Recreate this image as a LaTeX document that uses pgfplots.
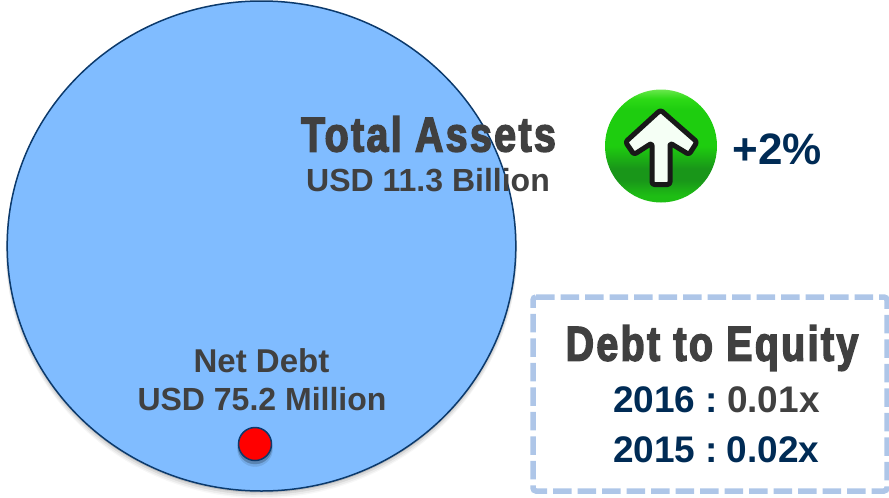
\documentclass[border=0pt]{standalone}
\usepackage{fontspec}
\setmainfont{Liberation Sans}
\newfontfamily\heavy[FakeBold=3,FakeStretch=0.8,LetterSpace=5]{Liberation Sans Bold}
\usepackage{pgfplots}
\pgfplotsset{compat=1.18}
\definecolor{bub}{RGB}{128,188,255}
\definecolor{navy}{RGB}{0,43,85}
\definecolor{edge}{RGB}{12,58,108}
\definecolor{txt}{RGB}{64,64,64}
\definecolor{boxdash}{RGB}{174,198,232}
\definecolor{ga}{RGB}{30,190,20}
\definecolor{gb}{RGB}{25,150,25}
\definecolor{gc}{RGB}{30,205,15}
\definecolor{gd}{RGB}{45,218,22}
\definecolor{ge}{RGB}{120,235,90}
\pgfdeclareverticalshading{greenball}{100bp}{
  color(0bp)=(ga);
  color(28bp)=(ga);
  color(35bp)=(gb);
  color(40bp)=(gb);
  color(50bp)=(gc);
  color(66bp)=(gc);
  color(71bp)=(gd);
  color(76bp)=(ge);
  color(100bp)=(ge)}
\pgfplotsset{pic/.style={at={(0,0)},anchor=south west,scale only axis,width=889pt,height=498pt,
  xmin=0,xmax=889,ymin=0,ymax=498,y dir=reverse,hide axis,clip=false}}
\begin{document}
\begin{tikzpicture}[x=1pt,y=1pt]
\path[use as bounding box] (0,0) rectangle (889pt,498pt);
\begin{axis}[pic]
% soft shadow of the large bubble
\addplot[only marks,mark=*,mark size=246pt,mark options={xscale=1.038,draw=black!3,fill=black!3}] coordinates {(261.5,252)};
\addplot[only marks,mark=*,mark size=246pt,mark options={xscale=1.038,draw=black!8,fill=black!8}] coordinates {(261.5,250.5)};
\addplot[only marks,mark=*,mark size=245.5pt,mark options={xscale=1.038,draw=black!15,fill=black!15}] coordinates {(261.5,249)};
\addplot[only marks,mark=*,mark size=245pt,mark options={xscale=1.038,draw=black!25,fill=black!25}] coordinates {(261.5,247.5)};
% Total Assets
\addplot[only marks,mark=*,mark size=245pt,mark options={xscale=1.038,draw=edge,fill=bub,line width=1.5pt}] coordinates {(261.5,246)};
% Net Debt
\addplot[only marks,mark=*,mark size=17.5pt,mark options={draw=bub!90!black,fill=bub!90!black}] coordinates {(255,449)};
\addplot[only marks,mark=*,mark size=17pt,mark options={draw=bub!70!black,fill=bub!70!black}] coordinates {(255,447)};
\addplot[only marks,mark=*,mark size=16.5pt,mark options={draw=edge,fill=red,line width=1.5pt}] coordinates {(255,444)};
\end{axis}
\begin{axis}[pic]
% texts
\node[text=txt,font=\heavy\fontsize{49}{49}\selectfont,anchor=center] at (axis cs:428.5,134) {Total Assets};
\node[text=txt,font=\bfseries\fontsize{32}{32}\selectfont,anchor=center] at (axis cs:428,180) {USD 11.3 Billion};
\node[text=txt,font=\bfseries\fontsize{33}{33}\selectfont,anchor=center] at (axis cs:261.5,361) {Net Debt};
\node[text=txt,font=\bfseries\fontsize{32}{32}\selectfont,anchor=center] at (axis cs:262,399) {USD 75.2 Million};
% green icon
\shade[shading=greenball] (axis cs:661,146) ellipse [x radius=56pt,y radius=56.5pt];
\fill[white!96!green,draw=black!90,line width=5pt,line join=round,rounded corners=2.5pt]
  (axis cs:660.5,110) -- (axis cs:697,142) -- (axis cs:689,154.5) -- (axis cs:670,143)
  -- (axis cs:670,184.5) -- (axis cs:652,184.5) -- (axis cs:652,143) -- (axis cs:634,154.5)
  -- (axis cs:625.5,142) -- cycle;
\node[text=navy,font=\bfseries\fontsize{44}{44}\selectfont,anchor=center] at (axis cs:777,149) {+2\%};
% dashed box
\draw[boxdash,line width=5.5pt,dash pattern=on 18.5pt off 6pt,rounded corners=3pt]
  (axis cs:533,297) -- (axis cs:887,297) -- (axis cs:887,491) -- (axis cs:533,491) -- cycle;
\node[text=txt,font=\heavy\fontsize{49}{49}\selectfont,anchor=center] at (axis cs:712,348) {Debt to Equity};
\node[font=\bfseries\fontsize{37}{37}\selectfont,anchor=base west,inner sep=0pt] at (axis cs:613,412) {\textcolor{navy}{2016 :}\hspace{0.24em}\textcolor{txt}{0.01x}};
\node[font=\bfseries\fontsize{37}{37}\selectfont,anchor=base west,inner sep=0pt] at (axis cs:613,462) {\textcolor{navy}{2015 :\hspace{0.24em}0.02x}};
\end{axis}
\end{tikzpicture}
\end{document}
